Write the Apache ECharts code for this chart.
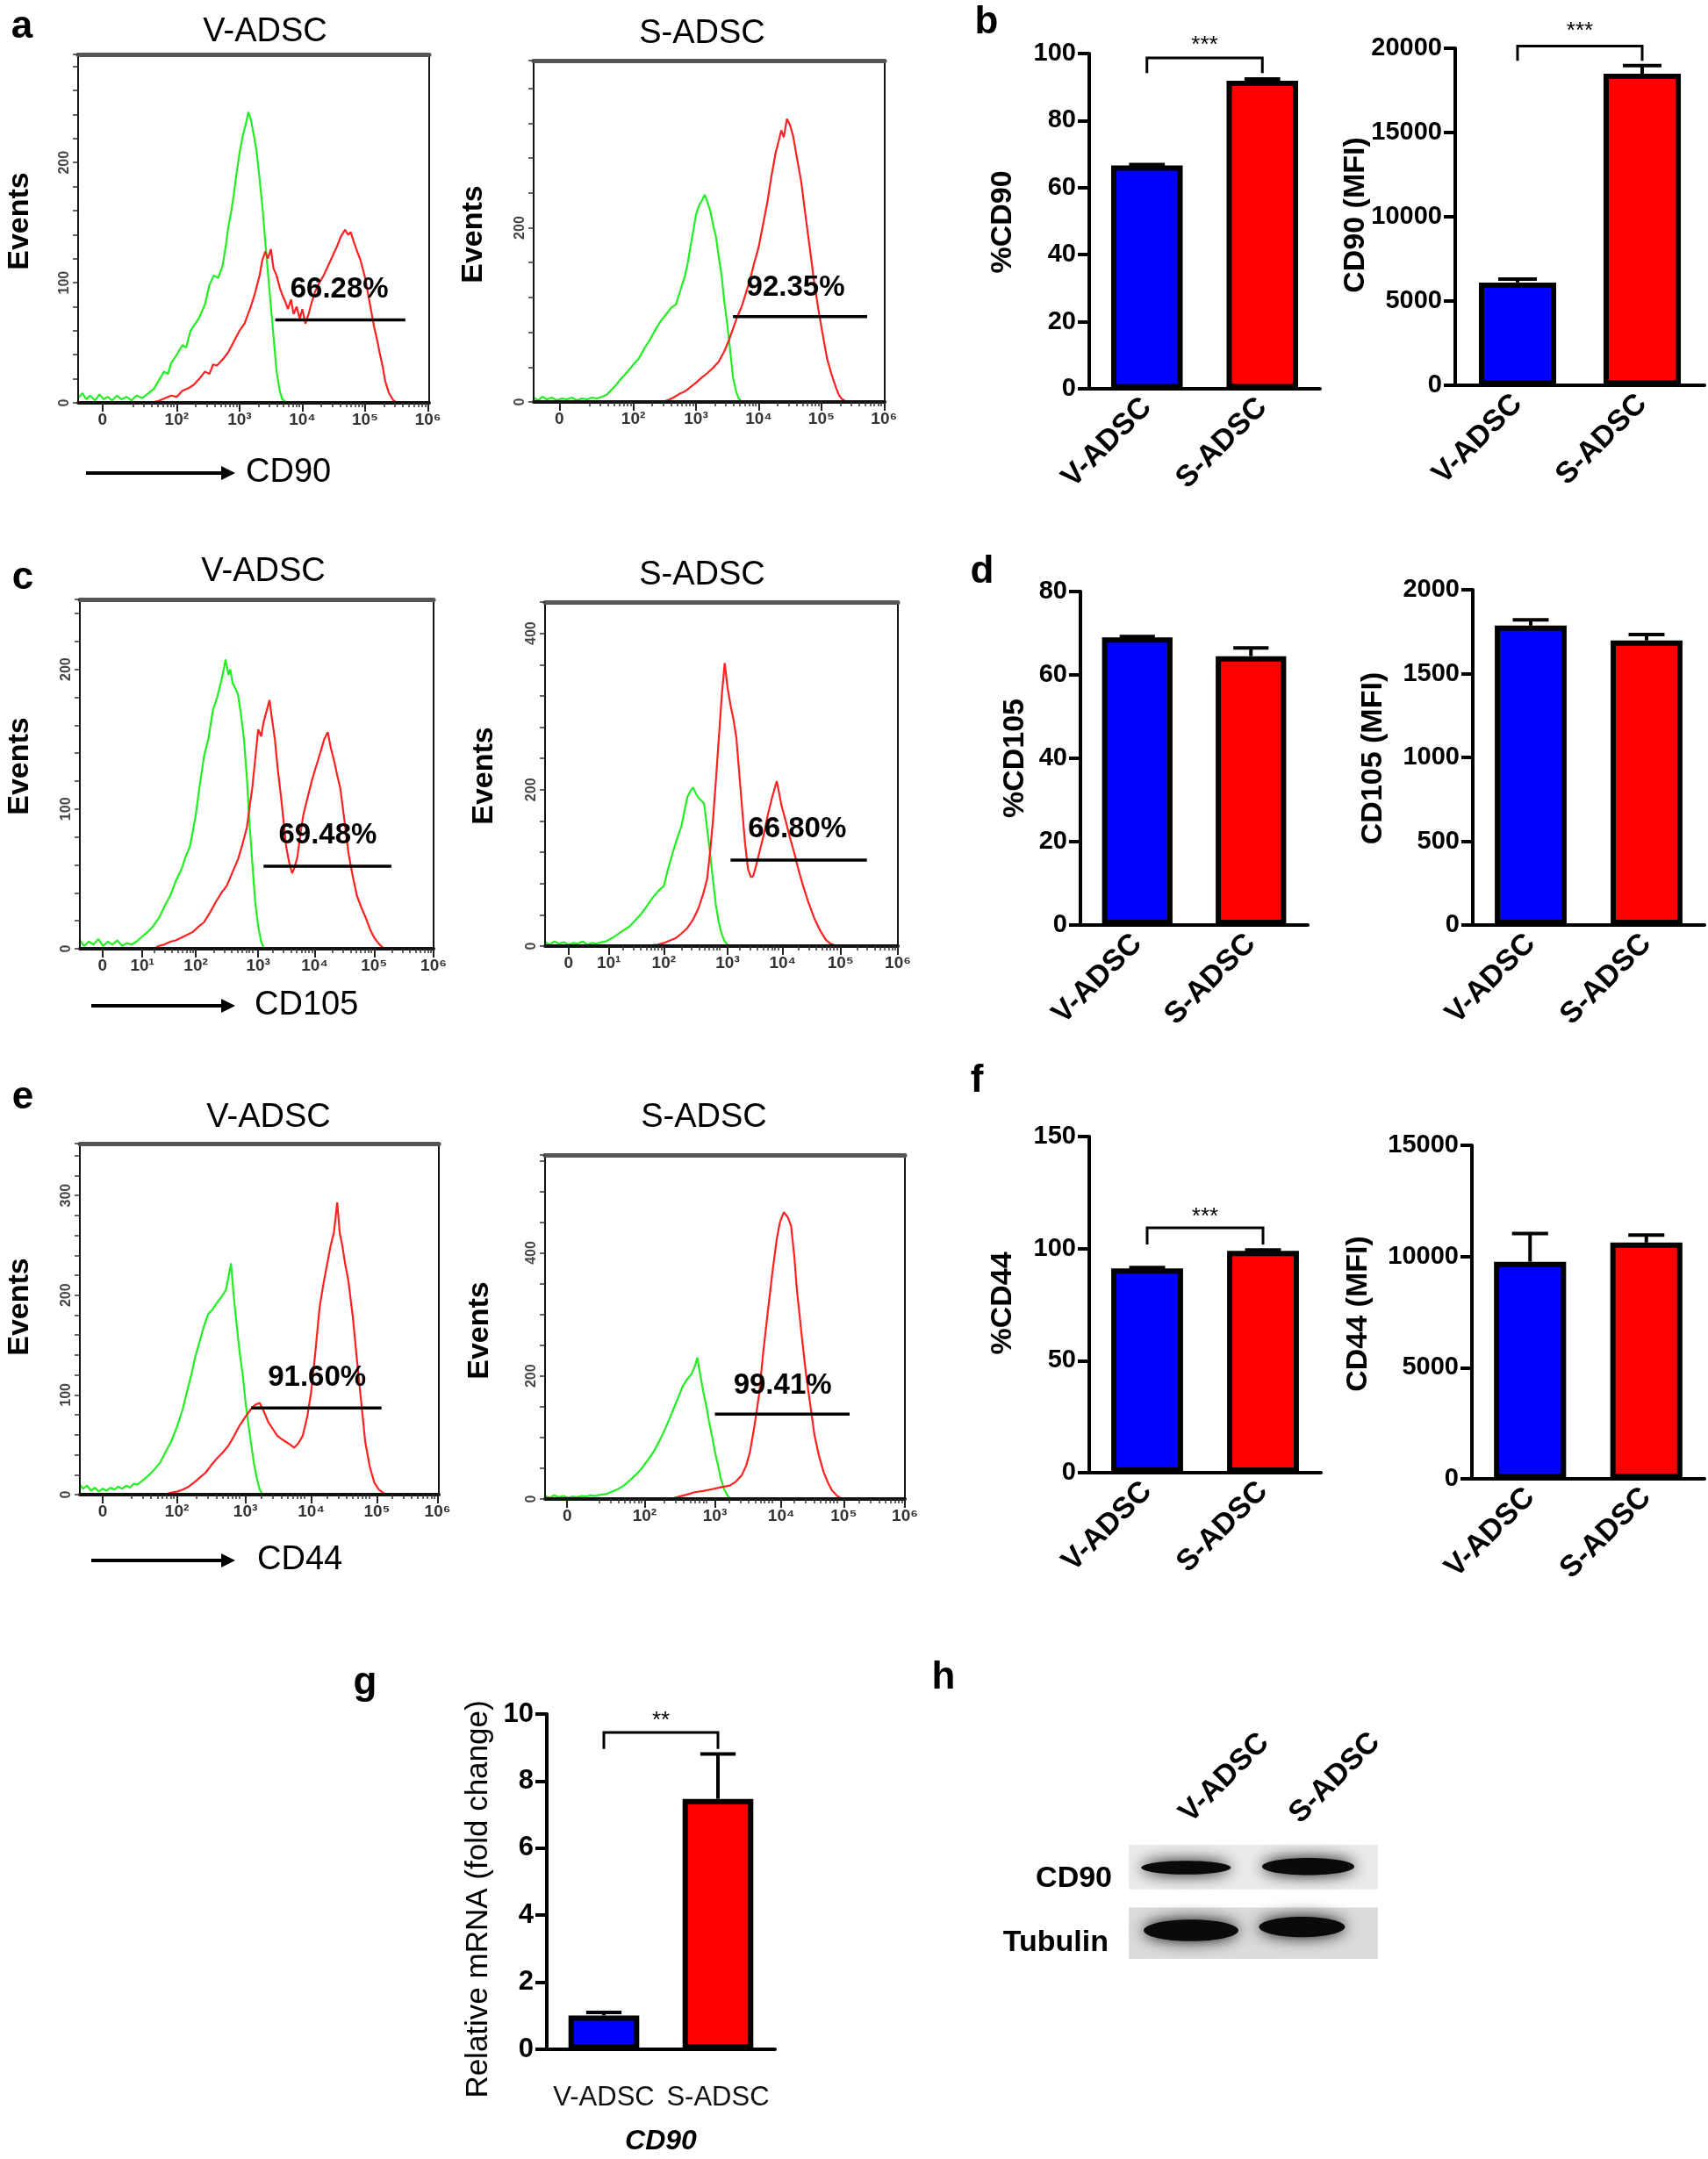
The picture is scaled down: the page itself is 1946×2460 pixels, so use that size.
<!DOCTYPE html>
<html><head><meta charset="utf-8">
<script src="https://cdn.jsdelivr.net/npm/echarts@6/dist/echarts.min.js"></script>
<style>html,body{margin:0;padding:0;background:#fff}#c{width:1946px;height:2460px}</style>
</head><body><div id="c"></div>
<script>
const FF = "'Liberation Sans', Arial, Helvetica, sans-serif";
const groups = ['V-ADSC', 'S-ADSC'];

// ---------- flow histogram tick labels (positions in decade units) ----------
const labels6 = ['0', '10²', '10³', '10⁴', '10⁵', '10⁶'];
const labels7 = ['0', '10¹', '10²', '10³', '10⁴', '10⁵', '10⁶'];
const aV_xpos = [0.82, 2, 3, 4, 5, 6];
const aS_xpos = [0.82, 2, 3, 4, 5, 6];
const cV_xpos = [0.43, 1.1, 2, 3.05, 4, 5, 6];
const cS_xpos = [0.37, 1.06, 2, 3.09, 4.03, 5.02, 6];
const eV_xpos = [0.86, 2, 3.05, 4.06, 5.07, 6];
const eS_xpos = [0.81, 2, 3.08, 4.1, 5.06, 6];

// ---------- histogram curves [decade position, events] ----------
const aV_green = [[0.43,4],[0.5,8],[0.56,3],[0.62,6],[0.7,2],[0.77,7],[0.84,3],[0.9,5],[0.97,2],[1.05,6],[1.12,3],[1.2,5],[1.28,2],[1.36,6],[1.45,4],[1.55,8],[1.64,12],[1.73,20],[1.8,26],[1.86,24],[1.91,33],[2.0,40],[2.09,48],[2.15,46],[2.22,60],[2.27,64],[2.35,70],[2.45,82],[2.52,98],[2.59,106],[2.66,104],[2.73,114],[2.78,130],[2.82,146],[2.87,160],[2.91,174],[2.95,190],[3.0,208],[3.05,222],[3.1,232],[3.14,242],[3.18,236],[3.23,222],[3.27,210],[3.32,186],[3.37,160],[3.41,134],[3.46,104],[3.5,80],[3.55,50],[3.59,26],[3.64,10],[3.68,3],[3.75,0]];
const aV_red = [[1.6,0],[1.73,2],[1.82,4],[1.91,6],[2.0,5],[2.09,10],[2.18,12],[2.27,15],[2.36,20],[2.45,26],[2.52,24],[2.58,32],[2.64,31],[2.73,36],[2.82,42],[2.9,50],[3.0,60],[3.08,66],[3.18,80],[3.25,92],[3.32,106],[3.36,118],[3.41,126],[3.45,120],[3.5,128],[3.54,112],[3.59,106],[3.64,96],[3.68,90],[3.73,84],[3.77,78],[3.82,86],[3.86,74],[3.91,80],[3.96,70],[4.0,78],[4.05,66],[4.1,74],[4.14,82],[4.2,92],[4.27,100],[4.34,106],[4.41,114],[4.48,122],[4.55,130],[4.61,138],[4.68,144],[4.73,140],[4.77,142],[4.82,134],[4.86,128],[4.93,118],[5.0,104],[5.07,84],[5.14,64],[5.2,50],[5.23,42],[5.28,30],[5.32,18],[5.38,8],[5.45,2],[5.52,0]];
const aS_green = [[0.41,5],[0.48,2],[0.55,6],[0.62,3],[0.7,5],[0.78,2],[0.86,4],[0.94,3],[1.02,5],[1.1,2],[1.18,4],[1.26,3],[1.34,5],[1.42,4],[1.5,6],[1.57,8],[1.64,13],[1.73,20],[1.82,28],[1.9,34],[2.0,43],[2.09,50],[2.18,62],[2.27,72],[2.36,84],[2.45,94],[2.55,103],[2.6,108],[2.68,112],[2.75,128],[2.82,144],[2.87,160],[2.91,178],[2.96,198],[3.0,215],[3.05,226],[3.1,232],[3.14,238],[3.18,230],[3.23,219],[3.27,204],[3.32,189],[3.36,168],[3.41,144],[3.45,116],[3.5,88],[3.55,56],[3.59,28],[3.64,12],[3.68,4],[3.74,0]];
const aS_red = [[2.45,0],[2.55,2],[2.64,5],[2.73,9],[2.82,12],[2.91,17],[3.0,22],[3.09,28],[3.18,33],[3.27,39],[3.36,46],[3.45,58],[3.52,70],[3.59,84],[3.66,98],[3.73,110],[3.8,126],[3.86,140],[3.93,160],[4.0,178],[4.07,204],[4.14,230],[4.2,258],[4.27,286],[4.32,300],[4.36,312],[4.4,304],[4.45,325],[4.5,318],[4.55,305],[4.61,280],[4.68,252],[4.75,212],[4.82,174],[4.88,140],[4.95,107],[5.02,78],[5.09,50],[5.16,32],[5.23,17],[5.28,8],[5.32,4],[5.4,0]];
const cV_green = [[0.05,6],[0.12,2],[0.2,5],[0.28,3],[0.36,7],[0.44,2],[0.52,5],[0.6,3],[0.68,6],[0.76,2],[0.84,4],[0.92,3],[1.0,5],[1.08,8],[1.19,12],[1.28,16],[1.38,22],[1.47,30],[1.57,38],[1.66,48],[1.76,57],[1.83,66],[1.9,73],[1.95,84],[2.0,96],[2.07,118],[2.14,138],[2.21,150],[2.29,171],[2.36,180],[2.43,192],[2.47,200],[2.5,207],[2.55,196],[2.58,200],[2.62,190],[2.67,186],[2.71,182],[2.76,168],[2.81,150],[2.86,122],[2.9,92],[2.95,62],[3.0,33],[3.05,16],[3.1,5],[3.15,0]];
const cV_red = [[1.3,0],[1.38,2],[1.47,3],[1.57,5],[1.66,6],[1.76,8],[1.86,10],[1.95,12],[2.05,16],[2.14,19],[2.24,26],[2.33,33],[2.43,40],[2.52,45],[2.62,55],[2.71,64],[2.78,74],[2.86,87],[2.9,100],[2.95,115],[3.0,136],[3.05,157],[3.1,152],[3.14,162],[3.19,170],[3.24,178],[3.28,165],[3.33,150],[3.38,128],[3.43,110],[3.48,90],[3.52,73],[3.57,62],[3.62,54],[3.66,58],[3.71,66],[3.76,82],[3.81,96],[3.88,108],[3.95,120],[4.02,130],[4.1,141],[4.16,150],[4.22,155],[4.27,144],[4.33,134],[4.38,124],[4.43,115],[4.5,92],[4.57,68],[4.64,52],[4.71,38],[4.78,30],[4.86,22],[4.93,14],[5.0,8],[5.07,4],[5.14,1],[5.2,0]];
const cS_green = [[-0.03,5],[0.05,2],[0.13,6],[0.21,3],[0.29,5],[0.37,2],[0.45,4],[0.53,3],[0.61,6],[0.69,2],[0.77,4],[0.85,3],[0.93,5],[1.01,6],[1.11,10],[1.21,15],[1.31,20],[1.41,25],[1.5,32],[1.6,40],[1.7,50],[1.8,61],[1.9,70],[2.0,77],[2.07,98],[2.15,119],[2.22,136],[2.3,153],[2.35,172],[2.4,190],[2.45,198],[2.5,203],[2.55,195],[2.59,190],[2.64,186],[2.69,182],[2.74,150],[2.79,119],[2.84,84],[2.89,52],[2.94,30],[2.99,15],[3.04,6],[3.09,2],[3.14,0]];
const cS_red = [[1.7,0],[1.8,1],[1.9,2],[2.0,4],[2.1,7],[2.2,10],[2.3,16],[2.4,23],[2.5,34],[2.59,48],[2.67,66],[2.74,86],[2.79,120],[2.84,161],[2.89,212],[2.94,266],[2.99,320],[3.04,362],[3.09,330],[3.14,308],[3.19,290],[3.24,266],[3.29,220],[3.34,174],[3.39,130],[3.44,98],[3.49,88],[3.53,90],[3.58,104],[3.63,119],[3.7,140],[3.78,169],[3.85,190],[3.93,211],[3.97,196],[4.01,180],[4.08,161],[4.15,140],[4.23,119],[4.3,98],[4.38,77],[4.47,56],[4.57,36],[4.67,20],[4.77,8],[4.85,3],[4.92,1],[5.0,0]];
const eV_green = [[0.51,10],[0.56,6],[0.62,9],[0.68,4],[0.74,7],[0.8,3],[0.86,6],[0.92,4],[0.98,7],[1.04,5],[1.1,8],[1.16,6],[1.22,9],[1.28,7],[1.34,11],[1.39,10],[1.47,14],[1.56,19],[1.65,25],[1.74,32],[1.82,42],[1.91,53],[2.0,68],[2.09,86],[2.15,102],[2.22,120],[2.28,138],[2.35,154],[2.41,168],[2.48,181],[2.55,186],[2.61,192],[2.68,198],[2.75,205],[2.79,218],[2.83,232],[2.87,200],[2.92,168],[2.96,144],[3.01,120],[3.05,94],[3.1,69],[3.14,50],[3.18,32],[3.22,18],[3.27,5],[3.32,0]];
const eV_red = [[1.8,0],[1.91,2],[2.0,3],[2.09,5],[2.18,8],[2.26,12],[2.35,17],[2.44,22],[2.52,29],[2.61,36],[2.7,42],[2.79,49],[2.87,58],[2.96,69],[3.05,78],[3.14,86],[3.2,90],[3.27,92],[3.33,84],[3.4,73],[3.47,66],[3.54,59],[3.6,56],[3.67,53],[3.74,50],[3.8,47],[3.87,52],[3.93,59],[4.0,78],[4.06,103],[4.12,140],[4.19,188],[4.25,212],[4.32,236],[4.36,250],[4.41,263],[4.46,293],[4.5,262],[4.54,249],[4.58,232],[4.63,215],[4.7,178],[4.76,137],[4.83,92],[4.89,53],[4.96,28],[5.03,12],[5.1,5],[5.16,2],[5.22,0]];
const eS_green = [[0.47,5],[0.54,2],[0.61,6],[0.68,3],[0.75,5],[0.82,2],[0.89,4],[0.96,3],[1.03,5],[1.1,4],[1.17,6],[1.24,5],[1.32,7],[1.41,8],[1.5,12],[1.59,16],[1.68,22],[1.77,30],[1.86,39],[1.95,49],[2.04,62],[2.14,77],[2.23,95],[2.32,115],[2.38,130],[2.45,148],[2.52,166],[2.59,184],[2.65,194],[2.72,203],[2.77,215],[2.81,230],[2.85,205],[2.9,175],[2.95,150],[2.99,126],[3.04,100],[3.08,77],[3.13,54],[3.17,33],[3.23,14],[3.29,3],[3.35,0]];
const eS_red = [[2.4,0],[2.5,3],[2.64,7],[2.77,11],[2.9,13],[3.04,16],[3.17,19],[3.31,22],[3.4,28],[3.49,38],[3.56,54],[3.62,77],[3.69,120],[3.76,170],[3.82,236],[3.89,301],[3.96,365],[4.03,422],[4.08,450],[4.14,466],[4.2,458],[4.25,444],[4.3,395],[4.34,340],[4.41,270],[4.48,203],[4.55,150],[4.61,104],[4.68,70],[4.75,44],[4.82,26],[4.88,14],[4.95,6],[5.02,1],[5.1,0]];

// gates [x1, x2, y] and gate labels [x, y, text]
const aV_gate = [3.57, 5.64, 69], aV_gl = [4.59, 94, '66.28%'];
const aS_gate = [3.59, 5.73, 98], aS_gl = [4.59, 131, '92.35%'];
const cV_gate = [3.14, 5.29, 59], cV_gl = [4.22, 81, '69.48%'];
const cS_gate = [3.14, 5.47, 110], cS_gl = [4.28, 149, '66.80%'];
const eV_gate = [3.14, 5.14, 87], eV_gl = [4.15, 117, '91.60%'];
const eS_gate = [3.08, 5.15, 138], eS_gl = [4.12, 184, '99.41%'];

// ---------- bar panels: means, SEM, brackets [leg, top, stars y] ----------
const pctCD90 = [66.6, 91.9], pctCD90_err = [0.3, 0.5], pctCD90_br = [94.2, 98.7, 102.5];
const mfiCD90 = [6100, 18490], mfiCD90_err = [200, 480], mfiCD90_br = [19264, 20136, 21000];
const pctCD105 = [69.0, 64.5], pctCD105_err = [0.2, 2.0];
const mfiCD105 = [1786, 1698], mfiCD105_err = [35, 35];
const pctCD44 = [91.2, 99.0], pctCD44_err = [0.3, 0.4], pctCD44_br = [101.8, 109.3, 114];
const mfiCD44 = [9762, 10627], mfiCD44_err = [1275, 334];
const mrnaCD90 = [1.01, 7.47], mrnaCD90_err = [0.09, 1.34], mrnaCD90_br = [8.96, 9.45, 9.8];

// ---------- western blot: row backgrounds [y0,y1], bands [laneX, rowY, width, height] ----------
const blotRows = ['CD90', 'Tubulin'];
const blotPanels = [[0, 0.39], [0.55, 1.0]];
const blotBands = [[0.46, 0.20, 0.72, 0.12], [1.44, 0.19, 0.74, 0.15], [0.50, 0.75, 0.76, 0.19], [1.39, 0.72, 0.69, 0.18]];

const grids = [], xAxes = [], yAxes = [], series = [], graphics = [];

function T(text, x, y, size, o) {
  o = o || {};
  graphics.push({type: 'text', x: x, y: y, rotation: o.rot || 0, z: 100,
    style: {text: text, fontSize: size, fontWeight: o.w || 'normal', fontStyle: o.it ? 'italic' : 'normal',
      fontFamily: FF, fill: o.c || '#000', align: o.a || 'center', textAlign: o.a || 'center',
      verticalAlign: 'middle', textVerticalAlign: 'middle'}});
}

function addHist(p) {
  const gi = grids.length;
  grids.push({left: p.box[0], top: p.box[1], width: p.box[2], height: p.box[3], show: true, borderColor: '#111', borderWidth: 2, backgroundColor: 'rgba(0,0,0,0)'});
  const xi = xAxes.length, yi = yAxes.length;
  const minor = [];
  for (let k = 1; k <= 5; k++) for (let m = 2; m <= 9; m++) { const v = k + Math.log10(m); if (v > p.xr[0] && v < p.xr[1]) minor.push(v); }
  xAxes.push({gridIndex: gi, type: 'value', min: p.xr[0], max: p.xr[1], position: 'bottom', z: 5,
    axisLine: {show: true, onZero: false, lineStyle: {color: '#111', width: 4}},
    axisTick: {show: true, customValues: p.xpos, length: 10, lineStyle: {color: '#222', width: 2}},
    axisLabel: {show: true, customValues: p.xpos, fontSize: 19, fontWeight: 'bold', color: '#333', fontFamily: FF, margin: 10,
      formatter: function (v) { const i = p.xpos.findIndex(q => Math.abs(q - v) < 1e-6); return i >= 0 ? p.xtxt[i] : ''; }},
    splitLine: {show: false}});
  xAxes.push({gridIndex: gi, type: 'value', min: p.xr[0], max: p.xr[1], position: 'bottom', z: 5,
    axisLine: {show: false, onZero: false}, axisTick: {show: true, customValues: minor, length: 5, lineStyle: {color: '#333', width: 1.5}},
    axisLabel: {show: false}, splitLine: {show: false}});
  xAxes.push({gridIndex: gi, type: 'value', min: p.xr[0], max: p.xr[1], position: 'top', z: 5,
    axisLine: {show: true, onZero: false, lineStyle: {color: '#555', width: 5}}, axisTick: {show: false}, axisLabel: {show: false}, splitLine: {show: false}});
  yAxes.push({gridIndex: gi, type: 'value', min: 0, max: p.ymax, interval: p.yint, z: 5,
    axisLine: {show: true, onZero: false, lineStyle: {color: '#111', width: 2}},
    axisTick: {show: true, length: 6, lineStyle: {color: '#333', width: 1.5}},
    axisLabel: {rotate: 90, fontSize: 16, fontWeight: 'bold', color: '#444', fontFamily: FF, margin: 7,
      formatter: v => (Math.round(v) % p.ylab === 0 ? String(v) : '')},
    splitLine: {show: false}});
  series.push({type: 'line', xAxisIndex: xi, yAxisIndex: yi, data: p.green, showSymbol: false, symbol: 'none', lineStyle: {color: '#22ee22', width: 2.2}, z: 2});
  series.push({type: 'line', xAxisIndex: xi, yAxisIndex: yi, data: p.red, showSymbol: false, symbol: 'none', lineStyle: {color: '#ff2020', width: 2.2}, z: 2});
  series.push({type: 'line', xAxisIndex: xi, yAxisIndex: yi, data: [[p.gate[0], p.gate[2]], [p.gate[1], p.gate[2]]], symbol: 'none', lineStyle: {color: '#000', width: 3.5}, z: 3});
  series.push({type: 'custom', coordinateSystem: 'cartesian2d', xAxisIndex: xi, yAxisIndex: yi, z: 4, clip: false, encode: {x: 0, y: 1},
    data: [[p.gl[0], p.gl[1]]],
    renderItem: function (params, api) {
      const c = api.coord([api.value(0), api.value(1)]);
      return {type: 'text', x: c[0], y: c[1], style: {text: p.gl[2], fontSize: 33, fontWeight: 'bold', fontFamily: FF, fill: '#000', align: 'center', verticalAlign: 'middle'}};
    }});
}

function errRender(params, api) {
  const i = api.value(0), m = api.value(1), e = api.value(2);
  const base = api.coord([i, m]), top = api.coord([i, m + e]);
  const cw = api.size([1, 0])[0] * 0.31;
  return {type: 'group', children: [
    {type: 'line', shape: {x1: base[0], y1: base[1], x2: top[0], y2: top[1]}, style: {stroke: '#000', lineWidth: 4}},
    {type: 'line', shape: {x1: top[0] - cw / 2, y1: top[1], x2: top[0] + cw / 2, y2: top[1]}, style: {stroke: '#000', lineWidth: 4}}]};
}
function bracketRender(stars) {
  return function (params, api) {
    const leg = api.value(1), top = api.value(2), ty = api.value(3);
    const p0 = api.coord([0, leg]), p1 = api.coord([0, top]), p2 = api.coord([1, top]), p3 = api.coord([1, leg]);
    const yT = api.coord([0, ty])[1];
    return {type: 'group', children: [
      {type: 'polyline', shape: {points: [p0, p1, p2, p3]}, style: {stroke: '#000', lineWidth: 3, fill: null}},
      {type: 'text', x: (p1[0] + p2[0]) / 2, y: yT, style: {text: stars, fontSize: 26, fontFamily: FF, fill: '#000', align: 'center', verticalAlign: 'middle'}}]};
  };
}

function addBar(p) {
  const gi = grids.length;
  grids.push({left: p.box[0], top: p.box[1], width: p.box[2], height: p.box[3]});
  const xi = xAxes.length, yi = yAxes.length;
  xAxes.push({gridIndex: gi, type: 'category', data: groups,
    axisLine: {lineStyle: {color: '#000', width: 4}},
    axisTick: {alignWithLabel: true, length: 12, lineStyle: {width: 4, color: '#000'}},
    axisLabel: p.flat ? {interval: 0, hideOverlap: false, rotate: 0, fontSize: 31, color: '#111', margin: 40, fontFamily: FF}
                      : {interval: 0, rotate: 45, fontSize: 34, fontWeight: 'bold', color: '#000', margin: 16, fontFamily: FF}});
  yAxes.push({gridIndex: gi, type: 'value', min: 0, max: p.ymax, interval: p.yint,
    axisLine: {show: true, lineStyle: {color: '#000', width: 4}},
    axisTick: {show: true, length: 13, lineStyle: {width: 4, color: '#000'}},
    axisLabel: {fontSize: p.lsize || 29, fontWeight: 'bold', color: '#000', margin: 15, fontFamily: FF, formatter: v => String(v)},
    splitLine: {show: false}});
  series.push({type: 'bar', xAxisIndex: xi, yAxisIndex: yi, barWidth: '62%',
    data: p.vals.map((v, i) => ({value: v, itemStyle: {color: i ? '#ff0000' : '#0000ff'}})),
    itemStyle: {borderColor: '#000', borderWidth: 6}, z: 2});
  series.push({type: 'custom', coordinateSystem: 'cartesian2d', xAxisIndex: xi, yAxisIndex: yi, clip: false, z: 3,
    encode: {x: 0, y: 1}, data: p.vals.map((v, i) => [i, v, p.errs[i]]), renderItem: errRender});
  if (p.br) series.push({type: 'custom', coordinateSystem: 'cartesian2d', xAxisIndex: xi, yAxisIndex: yi, clip: false, z: 3,
    encode: {x: 0, y: 1}, data: [[0, p.br[0], p.br[1], p.br[2]]], renderItem: bracketRender(p.stars)});
}

// ---------- flow panels ----------
addHist({box: [89, 62, 400, 397], xr: [0.43, 6.02], ymax: 290, yint: 20, ylab: 100, xpos: aV_xpos, xtxt: labels6, green: aV_green, red: aV_red, gate: aV_gate, gl: aV_gl});
addHist({box: [608, 69, 400, 389], xr: [0.41, 6.01], ymax: 392, yint: 40, ylab: 200, xpos: aS_xpos, xtxt: labels6, green: aS_green, red: aS_red, gate: aS_gate, gl: aS_gl});
addHist({box: [91, 683, 403, 398], xr: [0.05, 6.0], ymax: 250, yint: 20, ylab: 100, xpos: cV_xpos, xtxt: labels7, green: cV_green, red: cV_red, gate: cV_gate, gl: cV_gl});
addHist({box: [621, 686, 402, 392], xr: [-0.03, 6.0], ymax: 440, yint: 40, ylab: 200, xpos: cS_xpos, xtxt: labels7, green: cS_green, red: cS_red, gate: cS_gate, gl: cS_gl});
addHist({box: [91, 1303, 409, 400], xr: [0.51, 6.02], ymax: 352, yint: 20, ylab: 100, xpos: eV_xpos, xtxt: labels6, green: eV_green, red: eV_red, gate: eV_gate, gl: eV_gl});
addHist({box: [621, 1316, 410, 392], xr: [0.47, 6.0], ymax: 559, yint: 50, ylab: 200, xpos: eS_xpos, xtxt: labels6, green: eS_green, red: eS_red, gate: eS_gate, gl: eS_gl});

// ---------- bar panels ----------
addBar({box: [1241, 61, 263, 382], ymax: 100, yint: 20, vals: pctCD90, errs: pctCD90_err, br: pctCD90_br, stars: '***'});
addBar({box: [1658, 55, 284, 384], ymax: 20000, yint: 5000, vals: mfiCD90, errs: mfiCD90_err, br: mfiCD90_br, stars: '***'});
addBar({box: [1231, 674, 259, 380], ymax: 80, yint: 20, vals: pctCD105, errs: pctCD105_err});
addBar({box: [1678, 672, 264, 382], ymax: 2000, yint: 500, vals: mfiCD105, errs: mfiCD105_err});
addBar({box: [1241, 1295, 264, 383], ymax: 150, yint: 50, vals: pctCD44, errs: pctCD44_err, br: pctCD44_br, stars: '***'});
addBar({box: [1677, 1305, 265, 380], ymax: 15000, yint: 5000, vals: mfiCD44, errs: mfiCD44_err});
addBar({box: [623, 1953, 260, 382], ymax: 10, yint: 2, vals: mrnaCD90, errs: mrnaCD90_err, br: mrnaCD90_br, stars: '**', flat: true, lsize: 31});

// ---------- western blot ----------
(function () {
  const gi = grids.length;
  grids.push({left: 1286, top: 2102, width: 284, height: 130});
  const xi = xAxes.length, yi = yAxes.length;
  xAxes.push({gridIndex: gi, type: 'value', min: 0, max: 2, show: false});
  yAxes.push({gridIndex: gi, type: 'value', min: 0, max: 1, inverse: true, show: false});
  series.push({type: 'custom', coordinateSystem: 'cartesian2d', xAxisIndex: xi, yAxisIndex: yi, z: 1, encode: {x: 0, y: 1},
    data: blotPanels.map((r, i) => [0, r[0], r[1], i]),
    renderItem: function (params, api) {
      const a = api.coord([0, api.value(1)]), b = api.coord([2, api.value(2)]);
      return {type: 'rect', shape: {x: a[0], y: Math.min(a[1], b[1]), width: b[0] - a[0], height: Math.abs(b[1] - a[1])},
        style: {fill: api.value(3) ? '#dcdcdc' : '#ebebeb'}};
    }});
  series.push({type: 'custom', coordinateSystem: 'cartesian2d', xAxisIndex: xi, yAxisIndex: yi, z: 2, encode: {x: 0, y: 1},
    data: blotBands,
    renderItem: function (params, api) {
      const c = api.coord([api.value(0), api.value(1)]);
      const s = api.size([api.value(2), api.value(3)]);
      return {type: 'ellipse', shape: {cx: c[0], cy: c[1], rx: Math.abs(s[0]) / 2, ry: Math.abs(s[1]) / 2},
        style: {fill: '#0a0a0a', shadowBlur: 18, shadowColor: 'rgba(0,0,0,0.95)'}};
    }});
})();

// ---------- texts ----------
const L = 44;
T('a', 25, 31, L, {w: 'bold'}); T('b', 1124, 26, L, {w: 'bold'}); T('c', 26, 659, L, {w: 'bold'});
T('d', 1119, 652, L, {w: 'bold'}); T('e', 26, 1251, L, {w: 'bold'}); T('f', 1113, 1232, L, {w: 'bold'});
T('g', 416, 1918, L, {w: 'bold'}); T('h', 1075, 1912, L, {w: 'bold'});

T('V-ADSC', 302, 37, 38); T('S-ADSC', 800, 39, 38);
T('V-ADSC', 300, 652, 38); T('S-ADSC', 800, 656, 38);
T('V-ADSC', 306, 1274, 38); T('S-ADSC', 802, 1274, 38);

const R = Math.PI / 2;
T('Events', 23, 252, 34, {w: 'bold', rot: R}); T('Events', 540, 267, 34, {w: 'bold', rot: R});
T('Events', 23, 873, 34, {w: 'bold', rot: R}); T('Events', 552, 884, 34, {w: 'bold', rot: R});
T('Events', 23, 1489, 34, {w: 'bold', rot: R}); T('Events', 547, 1516, 34, {w: 'bold', rot: R});

function arrow(x1, x2, y) {
  graphics.push({type: 'line', z: 100, shape: {x1: x1, y1: y, x2: x2 - 10, y2: y}, style: {stroke: '#000', lineWidth: 4}});
  graphics.push({type: 'polygon', z: 100, shape: {points: [[x2 - 16, y - 8], [x2, y], [x2 - 16, y + 8]]}, style: {fill: '#000'}});
}
arrow(98, 268, 539); T('CD90', 280, 539, 38, {a: 'left'});
arrow(104, 268, 1146); T('CD105', 290, 1146, 38, {a: 'left'});
arrow(104, 268, 1778); T('CD44', 293, 1778, 38, {a: 'left'});

T('%CD90', 1143, 253, 34, {w: 'bold', rot: R});
T('CD90 (MFI)', 1545, 245, 34, {w: 'bold', rot: R});
T('%CD105', 1157, 864, 34, {w: 'bold', rot: R});
T('CD105 (MFI)', 1565, 864, 34, {w: 'bold', rot: R});
T('%CD44', 1143, 1485, 34, {w: 'bold', rot: R});
T('CD44 (MFI)', 1548, 1497, 34, {w: 'bold', rot: R});
T('Relative mRNA (fold change)', 545, 2164, 35, {rot: R});
T('CD90', 753, 2440, 32, {w: 'bold', it: true});

T(blotRows[0], 1267, 2141, 34, {w: 'bold', a: 'right'});
T(blotRows[1], 1263, 2214, 34, {w: 'bold', a: 'right'});
T(groups[0], 1395, 2026, 34, {w: 'bold', rot: Math.PI / 4});
T(groups[1], 1521, 2026, 34, {w: 'bold', rot: Math.PI / 4});

const chart = echarts.init(document.getElementById('c'), null, {renderer: 'canvas'});
chart.setOption({
  backgroundColor: '#ffffff', animation: false,
  textStyle: {fontFamily: FF},
  grid: grids, xAxis: xAxes, yAxis: yAxes, series: series, graphic: graphics
});
</script></body></html>
